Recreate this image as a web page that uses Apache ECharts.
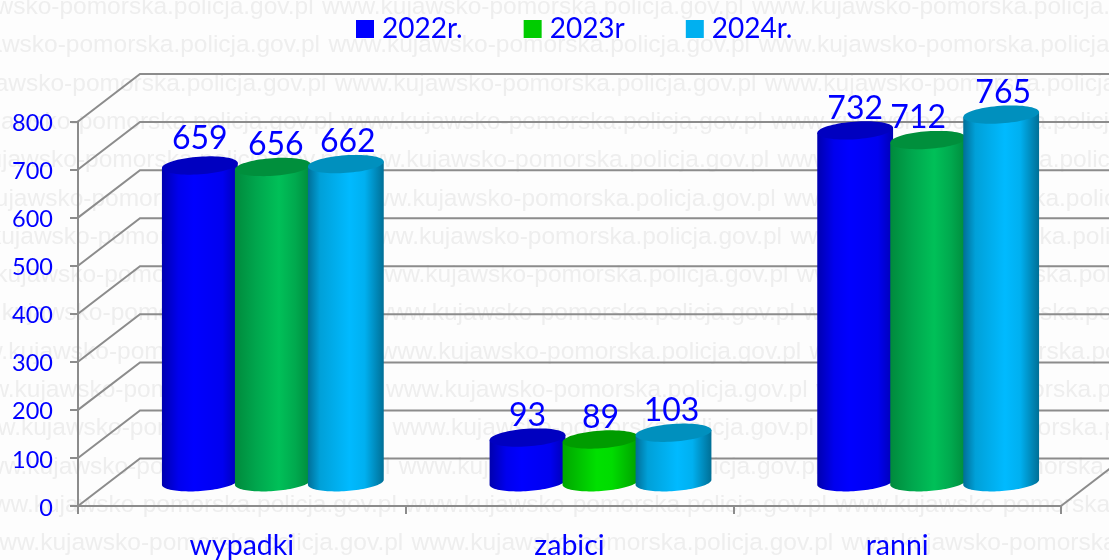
<!DOCTYPE html>
<html>
<head>
<meta charset="utf-8">
<style>html,body{margin:0;padding:0;background:#fdfdfd;overflow:hidden}#c{width:1109px;height:560px}</style>
<script src="https://cdn.jsdelivr.net/npm/echarts@6/dist/echarts.min.js"></script>
</head>
<body>
<div id="c"></div>
<script>
const categories = ['wypadki', 'zabici', 'ranni'];
const seriesNames = ['2022r.', '2023r', '2024r.'];
const values2022 = [659, 93, 732];
const values2023 = [656, 89, 712];
const values2024 = [662, 103, 765];
const yTicks = [0, 100, 200, 300, 400, 500, 600, 700, 800];
const watermarkText = 'www.kujawsko-pomorska.policja.gov.pl';

// styling, kept apart from the data
const FONT = 'Lato, "Noto Sans", sans-serif';
const BLUE = '#0000ff';
const GREY = '#8c8c8c';
const DEPTH_X = 62, DEPTH_Y = 47.5;     // wall depth of the fake 3D box
const RX = 38, RY = 8.8, TILT = -4 * Math.PI / 180, STEP = 73;

function stops(list) { return list.map(p => ({ offset: p[0], color: p[1] })); }
function grad(list) { return { type: 'linear', x: 0, y: 0, x2: 1, y2: 0, colorStops: stops(list) }; }
const fillBlue = { body: grad([[0,'#0000ae'],[.22,'#0000ee'],[.42,'#0000ff'],[.8,'#0000f0'],[1,'#0000b4']]), cap: '#0000c0' };
const fillGreen = { body: grad([[0,'#008a3c'],[.28,'#00a64d'],[.58,'#00c058'],[.8,'#00a94e'],[1,'#008a3c']]), cap: '#008f3c' };
const fillLime = { body: grad([[0,'#00a600'],[.45,'#00e000'],[.65,'#00dc00'],[1,'#00a000']]), cap: '#009c00' };
const fillCyan = { body: grad([[0,'#006f98'],[.16,'#00a0d8'],[.55,'#00baff'],[.75,'#00b0f0'],[1,'#006f96']]), cap: '#0090be' };
const fills = [
  [fillBlue, fillBlue, fillBlue],
  [fillGreen, fillLime, fillGreen],
  [fillCyan, fillCyan, fillCyan]
];
const legendColors = ['#0000ff', '#00cc00', '#00b0f0'];
// hand placement of the value labels seen in the reference: [dx, dy]
const labelShift = [
  [[0,-5],[0,0],[0,0]],
  [[3,0],[0,0],[-10,0]],
  [[2,0],[-2,0],[2,0]]
];

function ellipsePoint(cx, cy, t) {
  const x = RX * Math.cos(t), y = RY * Math.sin(t);
  return [cx + x * Math.cos(TILT) - y * Math.sin(TILT), cy + x * Math.sin(TILT) + y * Math.cos(TILT)];
}

function cylinderSeries(name, values, si) {
  return {
    name,
    type: 'custom',
    coordinateSystem: 'cartesian2d',
    z: 3 + si,
    clip: false,
    itemStyle: { color: legendColors[si] },
    data: values.map((v, i) => [i, v]),
    encode: { x: 0, y: 1 },
    renderItem(params, api) {
      const i = api.value(0), v = api.value(1);
      const top = api.coord([i, v]);
      const base = api.coord([i, 0]);
      const cx = top[0] + DEPTH_X / 2 + (si - 1) * STEP;
      const topY = top[1] - DEPTH_Y / 2;
      const baseY = base[1] - DEPTH_Y / 2;
      const pts = [ellipsePoint(cx, topY, Math.PI)];
      for (let k = 0; k <= 48; k++) pts.push(ellipsePoint(cx, baseY, Math.PI - Math.PI * k / 48));
      pts.push(ellipsePoint(cx, topY, 0));
      const cap = [];
      for (let k = 0; k < 72; k++) cap.push(ellipsePoint(cx, topY, 2 * Math.PI * k / 72));
      const f = fills[si][i], sh = labelShift[si][i];
      return {
        type: 'group',
        children: [
          { type: 'polygon', shape: { points: pts }, style: { fill: f.body } },
          { type: 'polygon', shape: { points: cap }, style: { fill: f.cap } },
          { type: 'text', z2: 10, style: {
              text: String(v), x: cx + sh[0], y: topY - 22 + sh[1],
              fill: BLUE, font: '32px ' + FONT, textAlign: 'center', textVerticalAlign: 'middle' } }
        ]
      };
    }
  };
}

const wallSeries = {
  type: 'custom',
  coordinateSystem: 'cartesian2d',
  z: 1,
  clip: false,
  silent: true,
  legendHoverLink: false,
  data: yTicks.map(t => [0, t]),
  encode: { x: 0, y: 1 },
  renderItem(params, api) {
    const t = api.value(1);
    const y = api.coord([0, t])[1];
    const g = params.coordSys;
    const left = g.x, right = g.x + g.width;
    const lineStyle = { stroke: GREY, lineWidth: 2, fill: null };
    const children = [{
      type: 'polyline',
      shape: { points: [[left, y], [left + DEPTH_X, y - DEPTH_Y], [right + DEPTH_X, y - DEPTH_Y]] },
      style: lineStyle
    }];
    if (t === 0) children.push({
      type: 'line',
      shape: { x1: right, y1: y, x2: right + DEPTH_X, y2: y - DEPTH_Y },
      style: lineStyle
    });
    return { type: 'group', children };
  }
};

const watermark = [];
for (let n = 0; n < 15; n++) {
  const y = 12.8 + 38.3 * n;
  const x0 = 322 + 6.4 * n;
  for (let k = -1; k < 2; k++) {
    watermark.push({
      type: 'text', z: -10, silent: true,
      x: x0 + k * 430, y: y - 18,
      style: { text: watermarkText, fill: '#eeeeee', font: '24.5px "Liberation Sans", Arial, sans-serif', textVerticalAlign: 'top' }
    });
  }
}

const chart = echarts.init(document.getElementById('c'), null, { renderer: 'canvas' });
chart.setOption({
  animation: false,
  backgroundColor: '#fdfdfd',
  graphic: { elements: watermark },
  legend: {
    left: 356, top: 15, padding: 0,
    icon: 'rect', itemWidth: 18, itemHeight: 18, itemGap: 61,
    selectedMode: false,
    textStyle: { color: BLUE, fontFamily: FONT, fontSize: 28, padding: [0, 0, 6, 3] },
    data: seriesNames
  },
  grid: { left: 78, right: 48, top: 121.5, bottom: 54, containLabel: false, outerBoundsMode: 'none' },
  xAxis: {
    type: 'category',
    data: categories,
    axisLine: { show: true, lineStyle: { color: GREY, width: 2 } },
    axisTick: { show: true, length: 8, alignWithLabel: false, lineStyle: { color: GREY, width: 2 } },
    axisLabel: { color: BLUE, fontFamily: FONT, fontSize: 28.5, margin: 25 },
    splitLine: { show: false }
  },
  yAxis: {
    type: 'value',
    min: 0, max: 800, interval: 100,
    axisLine: { show: true, lineStyle: { color: GREY, width: 2 } },
    axisTick: { show: true, length: 8, lineStyle: { color: GREY, width: 2 } },
    axisLabel: { color: BLUE, fontFamily: FONT, fontSize: 23.5, margin: 25, verticalAlign: 'top', lineHeight: 4 },
    splitLine: { show: false }
  },
  series: [
    wallSeries,
    cylinderSeries(seriesNames[0], values2022, 0),
    cylinderSeries(seriesNames[1], values2023, 1),
    cylinderSeries(seriesNames[2], values2024, 2)
  ]
});
</script>
</body>
</html>
